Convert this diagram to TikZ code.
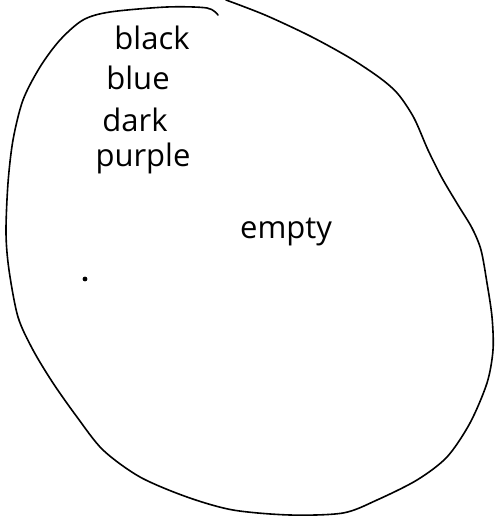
\documentclass[tikz,border=0pt]{standalone}
\usepackage{fontspec}
\setmainfont{Open Sans}
\usetikzlibrary{positioning}

\begin{document}
\begin{tikzpicture}[
  x=1pt, y=-1pt,
  font=\fontsize{31}{35}\selectfont,
  word/.style={inner sep=0pt, anchor=base},
  blob/.style={draw=black, line width=1.6pt, line cap=round, line join=round}
]
\useasboundingbox (0,0) rectangle (496,518);

% outline of the set
\draw[blob] plot[smooth, tension=0.5] coordinates {
  (218,15) (207,8) (167,7) (110,12) (83,20) (60,40) (40,67)
  (23,100) (13,140) (8,183) (6,233) (9,270) (18,317) (33,350)
  (53,383) (77,417) (103,450) (140,477) (187,497) (233,510)
  (290,515) (343,513) (377,500) (417,480) (447,457) (470,423)
  (487,383) (493,350) (492,317) (487,283) (481,250) (472,228)
  (458,205) (442,178) (428,150) (414,118) (398,94) (380,78)
  (350,58) (310,36) (265,15) (226,0)};

\node[word] (black) at (152,50) {black};
\node[word] (blue) at (138,90) {blue};
\node[word] (dark) at (135,132) {dark};
\node[word] (purple) at (143,167) {purple};
\node[word] (empty) at (286,238) {empty};
\fill (85,279) circle (2.4pt) coordinate (dot);
\end{tikzpicture}
\end{document}
